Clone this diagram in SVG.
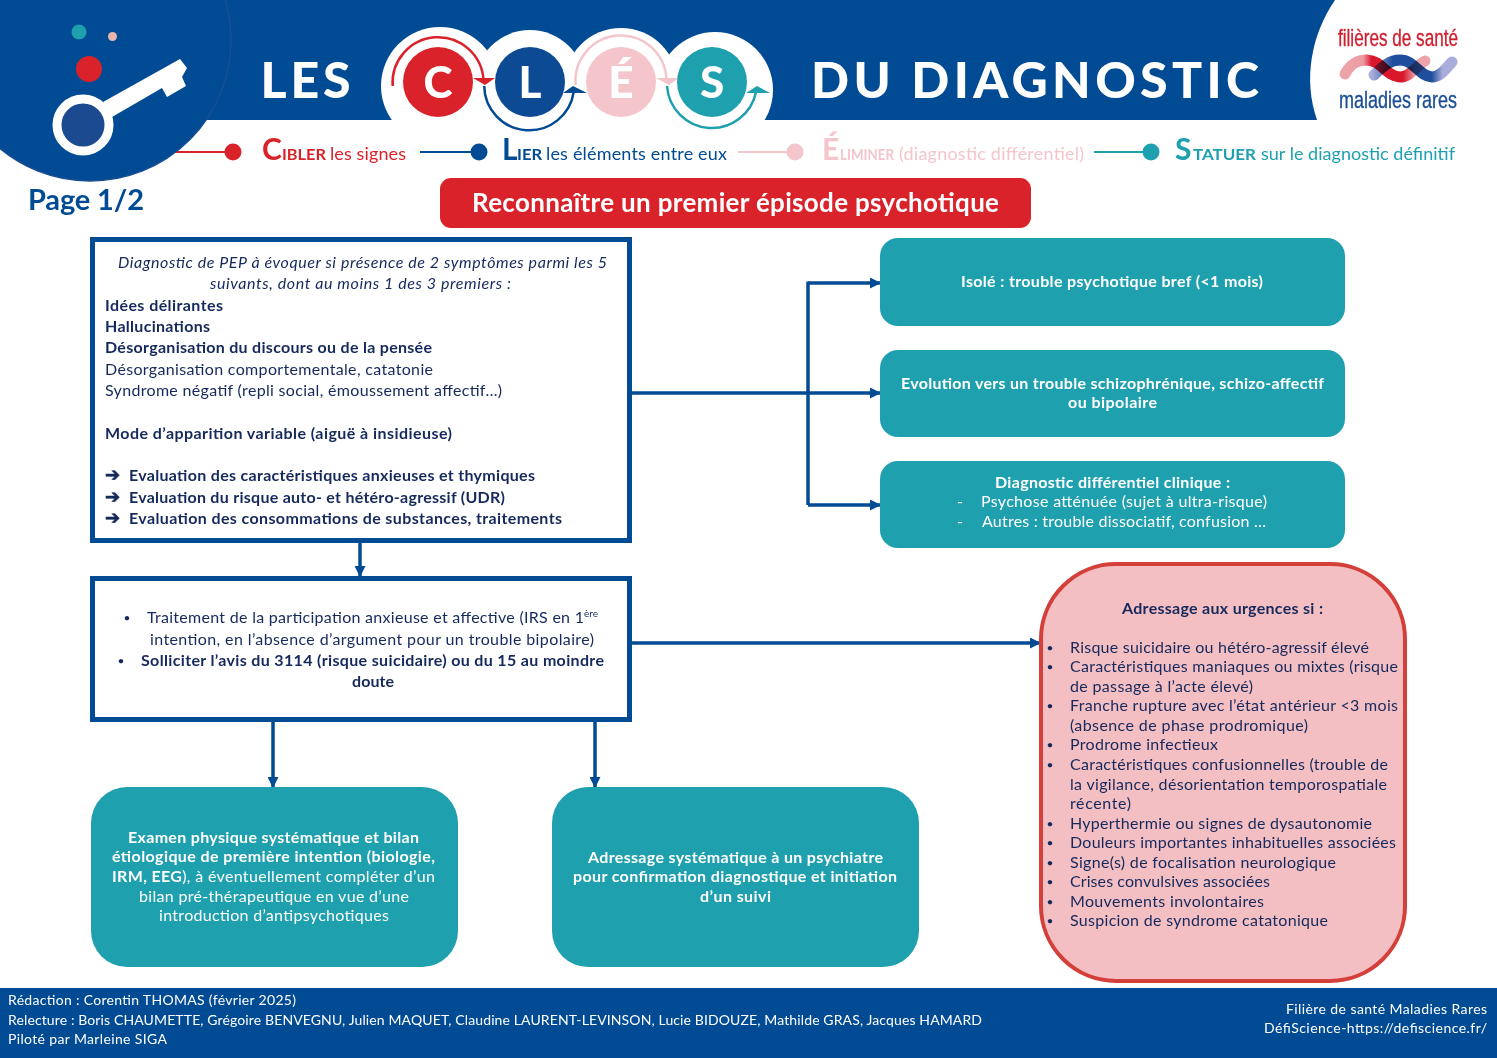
<svg xmlns="http://www.w3.org/2000/svg" width="1497" height="1058" viewBox="0 0 1497 1058">
<style>
text{font-family:"Lato","Carlito","Liberation Sans",sans-serif;font-size:16px;fill:#15295c;white-space:pre}
.b{font-weight:700}
.i{font-style:italic}
.w{fill:#fff}
.wb{fill:#fff;font-weight:700}
.teal{fill:#1fa0af}
.big{font-size:50px;font-weight:900;fill:#fff}
.letter{font-size:44px;font-weight:900;fill:#fff}
.lg{font-size:18px}
.cap{font-size:30px;font-weight:700}
.sc{font-size:16px;font-weight:700}
.ft{font-size:14px;fill:#fff}
.dot{font-size:12px}
.arw{font-family:"DejaVu Sans",sans-serif;font-size:18px;font-weight:700;stroke:#15295c;stroke-width:.7}
.logo{font-family:"Liberation Sans Narrow","Liberation Sans",sans-serif;font-size:17px;stroke-width:.25}
.conn{fill:none;stroke:#004b93;stroke-width:3.5}
.box{fill:#fff;stroke:#004b93;stroke-width:5}
.strand{fill:none;stroke-width:11;stroke-linecap:round;mix-blend-mode:multiply}
</style>
<defs>
<marker id="ah" markerUnits="userSpaceOnUse" markerWidth="11" markerHeight="11" refX="10" refY="5.500" orient="auto"><path d="M0 0L11 5.500L0 11Z" fill="#004b93"/></marker>
<linearGradient id="r1" gradientUnits="userSpaceOnUse" x1="1345" y1="0" x2="1428" y2="0"><stop offset="0" stop-color="#eda3aa"/><stop offset=".22" stop-color="#ee9aa3"/><stop offset=".32" stop-color="#d9182b"/><stop offset=".7" stop-color="#d9182b"/><stop offset=".85" stop-color="#eda3aa"/><stop offset="1" stop-color="#eda3aa"/></linearGradient>
<linearGradient id="r2" gradientUnits="userSpaceOnUse" x1="1372" y1="0" x2="1455" y2="0"><stop offset="0" stop-color="#a9addb"/><stop offset=".25" stop-color="#1f4e9c"/><stop offset=".72" stop-color="#1f4e9c"/><stop offset=".85" stop-color="#a9addb"/><stop offset="1" stop-color="#a9addb"/></linearGradient>
</defs>

<g id="header">
<rect x="0" y="0" width="1497" height="120" fill="#004b93"/>
<path d="M1335 0C1311 35 1303 80 1317 120H1497V0Z" fill="#fff"/>
<circle cx="440" cy="86" r="59" fill="#fff"/><circle cx="530" cy="85" r="55" fill="#fff"/><circle cx="621" cy="85" r="57" fill="#fff"/><circle cx="715" cy="90" r="58" fill="#fff"/>
<rect x="396" y="100" width="368" height="20" fill="#fff"/>
<text class="big" x="260.500" y="98" textLength="90">LES</text>
<text class="big" x="811" y="98" textLength="448">DU DIAGNOSTIC</text>
</g>

<g id="cles">
<path d="M392.700 86A45.500 45.500 0 1 1 483.500 80" fill="none" stroke="#d9222a" stroke-width="2.500"/>
<path d="M473 78H495L485 85Z" fill="#d9222a"/>
<path d="M484.200 86A45 45 0 0 0 573.700 92" fill="none" stroke="#004b93" stroke-width="2.500"/>
<path d="M563 93L573 86L587 93Z" fill="#004b93"/>
<path d="M575.600 85A45.500 45.500 0 1 1 666.400 79.500" fill="none" stroke="#f4c6cb" stroke-width="2.500"/>
<path d="M656 78H679L669 85Z" fill="#f4c6cb"/>
<path d="M667 86A45 45 0 0 0 756 92" fill="none" stroke="#1fa0af" stroke-width="2.500"/>
<path d="M746 93L757 86L770 93Z" fill="#1fa0af"/>
<circle cx="438" cy="82" r="35" fill="#d9222a"/><text class="letter" x="438" y="98" text-anchor="middle">C</text>
<circle cx="530" cy="82" r="35" fill="#0d4a94"/><text class="letter" x="530" y="98" text-anchor="middle">L</text>
<circle cx="621" cy="82" r="35" fill="#f4c6cb"/><text class="letter" x="621" y="98" text-anchor="middle">É</text>
<circle cx="712" cy="82" r="35" fill="#1fa0af"/><text class="letter" x="712" y="98" text-anchor="middle">S</text>
</g>

<g id="logo">
<text class="logo" transform="translate(1338 46) scale(1 1.420)" textLength="120" lengthAdjust="spacingAndGlyphs" style="fill:#d01f2e;stroke:#d01f2e">filières de santé</text>
<path class="strand" d="M1345 74C1351 63 1358 60 1367 60C1383 61 1385 76 1400 77C1411 77 1416 66 1425 61" stroke="url(#r1)"/>
<path class="strand" d="M1374 75C1383 66 1390 60 1400 60C1415 60 1418 76 1432 77C1441 77 1446 68 1452 62" stroke="url(#r2)"/>
<text class="logo" transform="translate(1339 108) scale(1 1.420)" textLength="118" lengthAdjust="spacingAndGlyphs" style="fill:#1c4f96;stroke:#1c4f96">maladies rares</text>
</g>

<g id="legend-lines">
<path d="M175 152H233" stroke="#d9222a" stroke-width="2" fill="none"/><circle cx="233" cy="152" r="8.500" fill="#d9222a"/>
<path d="M420 152H479" stroke="#004b93" stroke-width="2" fill="none"/><circle cx="479" cy="152" r="8.500" fill="#004b93"/>
<path d="M738 152H795" stroke="#f4c6cb" stroke-width="2" fill="none"/><circle cx="795" cy="152" r="8.500" fill="#f4c6cb"/>
<path d="M1094 152H1151" stroke="#1fa0af" stroke-width="2" fill="none"/><circle cx="1151" cy="152" r="8.500" fill="#1fa0af"/>
</g>

<g id="badge">
<circle cx="90" cy="40" r="141" fill="#004b93" stroke="#1a4e92" stroke-width="1.500"/>
<circle cx="79" cy="32" r="7.500" fill="#1fa0af"/>
<circle cx="112.500" cy="36.500" r="4.500" fill="#e6b5ad"/>
<circle cx="89" cy="69" r="13" fill="#d9222a"/>
<path d="M103 102L180 59L187 68L182 77L186 86L167 97L162 88L112 117Z" fill="#fff"/>
<circle cx="83" cy="125" r="26" fill="#1c4a90" stroke="#fff" stroke-width="9"/>
</g>

<g id="legend">
<text y="160"><tspan class="cap" x="262" style="fill:#d9222a">C</tspan><tspan class="sc" x="282" textLength="44" lengthAdjust="spacingAndGlyphs" style="fill:#d9222a">IBLER</tspan><tspan class="lg" x="330" textLength="76" style="fill:#d9222a">les signes</tspan></text>
<text y="160"><tspan class="cap" x="502" style="fill:#004b93">L</tspan><tspan class="sc" x="517" textLength="25" lengthAdjust="spacingAndGlyphs" style="fill:#004b93">IER</tspan><tspan class="lg" x="546" textLength="181" style="fill:#004b93">les éléments entre eux</tspan></text>
<text y="160"><tspan class="cap" x="822" style="fill:#f4c6cb">É</tspan><tspan class="sc" x="840" textLength="54" lengthAdjust="spacingAndGlyphs" style="fill:#f4c6cb">LIMINER</tspan><tspan class="lg" x="899" textLength="185" style="fill:#f4c6cb">(diagnostic différentiel)</tspan></text>
<text y="160"><tspan class="cap" x="1175" style="fill:#1fa0af">S</tspan><tspan class="sc" x="1193" textLength="63" lengthAdjust="spacingAndGlyphs" style="fill:#1fa0af">TATUER</tspan><tspan class="lg" x="1261" textLength="194" style="fill:#1fa0af">sur le diagnostic définitif</tspan></text>
</g>

<g id="page"><text x="28" y="210" class="b" textLength="116" style="font-size:29px;fill:#004b93">Page 1/2</text></g>

<g id="title">
<rect x="440" y="178" width="591" height="50" rx="11" fill="#d9222a"/>
<text class="wb" x="472" y="212" textLength="527" style="font-size:26px">Reconnaître un premier épisode psychotique</text>
</g>

<g id="connectors">
<path class="conn" d="M632 393H880" marker-end="url(#ah)"/>
<path class="conn" d="M808 505V281.500"/>
<path class="conn" d="M808 283H880" marker-end="url(#ah)"/>
<path class="conn" d="M808 505H880" marker-end="url(#ah)"/>
<path class="conn" d="M360 543V576" marker-end="url(#ah)"/>
<path class="conn" d="M632 643H1040" marker-end="url(#ah)"/>
<path class="conn" d="M273 722V787" marker-end="url(#ah)"/>
<path class="conn" d="M595 722V787" marker-end="url(#ah)"/>
</g>

<g id="box-criteres">
<rect class="box" x="92.500" y="239.500" width="537" height="301"/>
<text class="i" x="118" y="268" textLength="489">Diagnostic de PEP à évoquer si présence de 2 symptômes parmi les 5</text>
<text class="i" x="210" y="289" textLength="301">suivants, dont au moins 1 des 3 premiers :</text>
<text class="b" x="105" y="311" textLength="118">Idées délirantes</text>
<text class="b" x="105" y="332" textLength="105">Hallucinations</text>
<text class="b" x="105" y="353" textLength="327">Désorganisation du discours ou de la pensée</text>
<text x="105" y="375" textLength="328">Désorganisation comportementale, catatonie</text>
<text x="105" y="396" textLength="397">Syndrome négatif (repli social, émoussement affectif…)</text>
<text class="b" x="105" y="439" textLength="347">Mode d’apparition variable (aiguë à insidieuse)</text>
<text class="arw" x="105" y="481">➔</text>
<text class="arw" x="105" y="503">➔</text>
<text class="arw" x="105" y="524">➔</text>
<text class="b" x="129" y="481" textLength="406">Evaluation des caractéristiques anxieuses et thymiques</text>
<text class="b" x="129" y="503" textLength="376">Evaluation du risque auto- et hétéro-agressif (UDR)</text>
<text class="b" x="129" y="524" textLength="433">Evaluation des consommations de substances, traitements</text>
</g>

<g id="box-traitement">
<rect class="box" x="92.500" y="578.500" width="537" height="141"/>
<text class="dot" x="123.500" y="622">•</text>
<text x="147" y="623" textLength="437">Traitement de la participation anxieuse et affective (IRS en 1</text>
<text x="584" y="617" textLength="14" style="font-size:10px">ère</text>
<text x="150" y="645" textLength="444">intention, en l’absence d’argument pour un trouble bipolaire)</text>
<text class="dot" x="117.500" y="665">•</text>
<text class="b" x="141" y="666" textLength="463">Solliciter l’avis du 3114 (risque suicidaire) ou du 15 au moindre</text>
<text class="b" x="352" y="687" textLength="42">doute</text>
</g>

<g id="box-isole">
<rect class="teal" x="880" y="238" width="465" height="88" rx="18"/>
<text class="wb" x="961" y="287" textLength="302">Isolé : trouble psychotique bref (&lt;1 mois)</text>
</g>

<g id="box-evolution">
<rect class="teal" x="880" y="350" width="465" height="87" rx="18"/>
<text class="wb" x="901" y="389" textLength="423">Evolution vers un trouble schizophrénique, schizo-affectif</text>
<text class="wb" x="1068" y="408" textLength="89">ou bipolaire</text>
</g>

<g id="box-differentiel">
<rect class="teal" x="880" y="461" width="465" height="87" rx="18"/>
<text class="wb" x="995" y="488" textLength="235">Diagnostic différentiel clinique :</text>
<text class="w" x="957" y="507">-</text>
<text class="w" x="981" y="507" textLength="286">Psychose atténuée (sujet à ultra-risque)</text>
<text class="w" x="957" y="527">-</text>
<text class="w" x="982" y="527" textLength="284">Autres : trouble dissociatif, confusion …</text>
</g>

<g id="box-examen">
<rect class="teal" x="91" y="787" width="367" height="180" rx="36"/>
<text class="wb" x="128" y="843" textLength="291">Examen physique systématique et bilan</text>
<text class="wb" x="112" y="862" textLength="323">étiologique de première intention (biologie,</text>
<text class="w" x="112" y="882" textLength="323"><tspan class="wb">IRM, EEG</tspan>), à éventuellement compléter d’un</text>
<text class="w" x="139" y="902" textLength="270">bilan pré-thérapeutique en vue d’une</text>
<text class="w" x="159" y="921" textLength="230">introduction d’antipsychotiques</text>
</g>

<g id="box-adressage">
<rect class="teal" x="552" y="787" width="367" height="180" rx="36"/>
<text class="wb" x="588" y="863" textLength="295">Adressage systématique à un psychiatre</text>
<text class="wb" x="573" y="882" textLength="324">pour confirmation diagnostique et initiation</text>
<text class="wb" x="700" y="902" textLength="71">d’un suivi</text>
</g>

<g id="box-urgences">
<rect x="1041" y="564" width="364" height="417" rx="75" fill="#f4bfc3" stroke="#d43f3a" stroke-width="4"/>
<text class="b" x="1122" y="614" textLength="201">Adressage aux urgences si :</text>
<text class="dot" x="1046.500" y="652">•</text><text x="1070" y="653" textLength="299">Risque suicidaire ou hétéro-agressif élevé</text>
<text class="dot" x="1046.500" y="671">•</text><text x="1070" y="672" textLength="328">Caractéristiques maniaques ou mixtes (risque</text>
<text x="1070" y="692" textLength="183">de passage à l’acte élevé)</text>
<text class="dot" x="1046.500" y="710">•</text><text x="1070" y="711" textLength="328">Franche rupture avec l’état antérieur &lt;3 mois</text>
<text x="1070" y="731" textLength="238">(absence de phase prodromique)</text>
<text class="dot" x="1046.500" y="749">•</text><text x="1070" y="750" textLength="148">Prodrome infectieux</text>
<text class="dot" x="1046.500" y="769">•</text><text x="1070" y="770" textLength="318">Caractéristiques confusionnelles (trouble de</text>
<text x="1070" y="790" textLength="317">la vigilance, désorientation temporospatiale</text>
<text x="1070" y="809" textLength="61">récente)</text>
<text class="dot" x="1046.500" y="828">•</text><text x="1070" y="829" textLength="302">Hyperthermie ou signes de dysautonomie</text>
<text class="dot" x="1046.500" y="847">•</text><text x="1070" y="848" textLength="326">Douleurs importantes inhabituelles associées</text>
<text class="dot" x="1046.500" y="867">•</text><text x="1070" y="868" textLength="266">Signe(s) de focalisation neurologique</text>
<text class="dot" x="1046.500" y="886">•</text><text x="1070" y="887" textLength="200">Crises convulsives associées</text>
<text class="dot" x="1046.500" y="906">•</text><text x="1070" y="907" textLength="194">Mouvements involontaires</text>
<text class="dot" x="1046.500" y="925">•</text><text x="1070" y="926" textLength="258">Suspicion de syndrome catatonique</text>
</g>

<g id="footer">
<rect x="0" y="988" width="1497" height="70" fill="#004b93"/>
<text class="ft" x="8" y="1005" textLength="288">Rédaction : Corentin THOMAS (février 2025)</text>
<text class="ft" x="8" y="1025" textLength="974">Relecture : Boris CHAUMETTE, Grégoire BENVEGNU, Julien MAQUET, Claudine LAURENT-LEVINSON, Lucie BIDOUZE, Mathilde GRAS, Jacques HAMARD</text>
<text class="ft" x="8" y="1044" textLength="159">Piloté par Marleine SIGA</text>
<text class="ft" x="1286" y="1014" textLength="201">Filière de santé Maladies Rares</text>
<text class="ft" x="1264" y="1033" textLength="223">DéfiScience-https://defiscience.fr/</text>
</g>
</svg>
